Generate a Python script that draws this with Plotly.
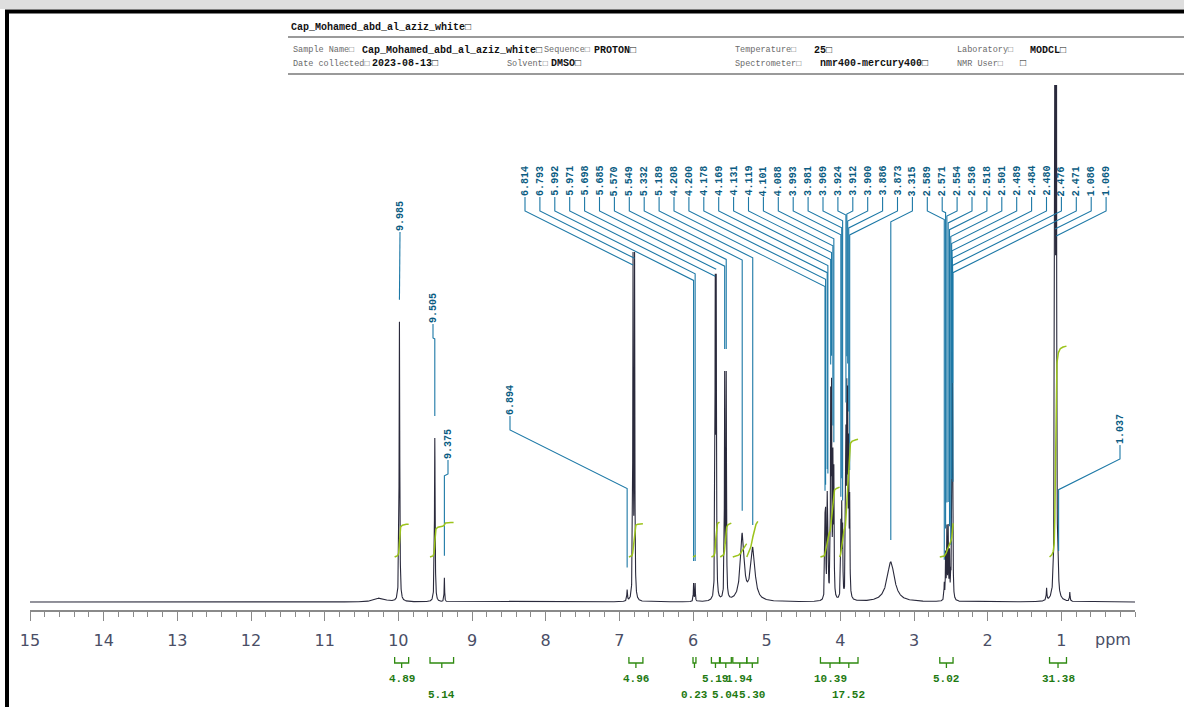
import numpy as np
import plotly.graph_objects as go

# ---------------- data ----------------
peak_ppm = [10.25, 9.985, 9.505, 9.375, 6.894, 6.814, 6.793, 5.992, 5.971,
            5.698, 5.685, 5.570, 5.549, 5.332, 5.189,
            4.208, 4.200, 4.178, 4.169, 4.131, 4.119, 4.101, 4.088,
            3.993, 3.981, 3.969, 3.924, 3.912, 3.900, 3.886, 3.873, 3.315,
            2.589, 2.571, 2.554, 2.536, 2.518, 2.501, 2.489, 2.484, 2.480, 2.476, 2.471,
            1.200, 1.086, 1.069, 1.037, 0.885]
peak_height = [4, 280, 164, 24, 11, 338, 338, 18, 18,
               301, 301, 221, 221, 66, 52,
               70, 75, 90, 85, 190, 195, 130, 120,
               70, 85, 65, 150, 185, 180, 140, 90, 40,
               16, 45, 70, 70, 45, 20, 45, 110, 160, 110, 45,
               12, 950, 950, 8, 9]
peak_hwhm = [0.08, 0.005, 0.005, 0.004, 0.005, 0.004, 0.004, 0.004, 0.004,
             0.004, 0.004, 0.004, 0.004, 0.03, 0.035,
             0.004, 0.004, 0.004, 0.004, 0.004, 0.004, 0.004, 0.004,
             0.004, 0.004, 0.004, 0.004, 0.004, 0.004, 0.004, 0.004, 0.06,
             0.004, 0.004, 0.004, 0.004, 0.004, 0.004, 0.003, 0.003, 0.003, 0.003, 0.003,
             0.005, 0.004, 0.004, 0.004, 0.005]

cluster_labels = ["6.814", "6.793", "5.992", "5.971", "5.698", "5.685", "5.570", "5.549",
                  "5.332", "5.189", "4.208", "4.200", "4.178", "4.169", "4.131", "4.119",
                  "4.101", "4.088", "3.993", "3.981", "3.969", "3.924", "3.912", "3.900",
                  "3.886", "3.873", "3.315", "2.589", "2.571", "2.554", "2.536", "2.518",
                  "2.501", "2.489", "2.484", "2.480", "2.476", "2.471", "1.086", "1.069"]
solo_labels = ["9.985", "9.505", "9.375", "6.894", "1.037"]

int_values = ["4.89", "5.14", "4.96", "0.23", "5.19", "5.04", "1.94", "5.30",
              "10.39", "17.52", "5.02", "31.38"]
int_start = [10.05, 9.57, 6.87, 6.00, 5.75, 5.63, 5.46, 5.27, 4.27, 4.01, 2.65, 1.16]
int_end = [9.86, 9.25, 6.68, 5.96, 5.64, 5.48, 5.27, 5.12, 4.01, 3.76, 2.47, 0.93]

tick_values = list(range(15, 0, -1))
tick_labels = [str(v) for v in tick_values]

title_text = "Cap_Mohamed_abd_al_aziz_white\u25a1"
header_items = [  # (label, value)
    ("Sample Name\u25a1", "Cap_Mohamed_abd_al_aziz_white\u25a1"),
    ("Sequence\u25a1", "PROTON\u25a1"),
    ("Date collected\u25a1", "2023-08-13\u25a1"),
    ("Solvent\u25a1", "DMSO\u25a1"),
    ("Temperature\u25a1", "25\u25a1"),
    ("Laboratory\u25a1", "MODCL\u25a1"),
    ("Spectrometer\u25a1", "nmr400-mercury400\u25a1"),
    ("NMR User\u25a1", "\u25a1"),
]

# ---------------- layout constants ----------------
W, H = 1184, 707
L, R, T, B = 30, 49, 85, 97
PW, PH = W - L - R, H - T - B
XMAX, XMIN = 15.0, 0.0
BASE_PIX = 602
YLO, YHI = -(H - B - BASE_PIX), BASE_PIX - T

def xpix(p):
    return L + (XMAX - p) / (XMAX - XMIN) * PW

def ppm_at(px):
    return XMAX - (px - L) / PW * (XMAX - XMIN)

def ydat(py):
    return BASE_PIX - py

def paper_x(px):
    return (px - L) / PW

def paper_y(py):
    return (H - B - py) / PH

P = np.array(peak_ppm)
Hh = np.array(peak_height, dtype=float)
Wd = np.array(peak_hwhm)

def spectrum(x):
    x = np.atleast_1d(x)[:, None]
    return (Hh * Wd**2 / ((x - P) ** 2 + Wd**2)).sum(axis=1)

grid = np.union1d(np.round(np.arange(XMIN, XMAX + 1e-9, 0.001), 4), P)
spec = spectrum(grid)

LINE_COL = "#1c78a6"
LABEL_COL = "#0b5c82"
INT_COL = "#9cc41c"
INT_TXT = "#1e7a12"
MONO = "Liberation Mono, DejaVu Sans Mono, monospace"

fig = go.Figure()
fig.add_trace(go.Scatter(x=grid, y=spec, mode="lines",
                         line=dict(color="#2a2a3c", width=1.1),
                         hoverinfo="skip", showlegend=False))

# ---------------- peak label leader lines ----------------
lx_all, ly_all = [], []
annotations = []

def add_leader(label, lx, lbot, pk):
    px = xpix(pk)
    y1, y2 = lbot + 2, lbot + 16
    y3 = y2 + 0.5 * abs(px - lx)
    ytop = BASE_PIX - float(spectrum(pk)[0]) - 22
    pts = [(lx, y1), (lx, y2), (px, y3)]
    if ytop > y3:
        pts.append((px, ytop))
    for (a, b) in pts:
        lx_all.append(ppm_at(a))
        ly_all.append(ydat(b))
    lx_all.append(None)
    ly_all.append(None)
    annotations.append(dict(x=ppm_at(lx), y=ydat(lbot - 14), xref="x", yref="y",
                            text="<b>%s</b>" % label, textangle=-90, showarrow=False,
                            xanchor="center", yanchor="middle",
                            font=dict(family=MONO, size=10, color=LABEL_COL)))

for i, lab in enumerate(cluster_labels):
    add_leader(lab, 525 + 14.9 * i, 195, float(lab))

solo_pos = [(400, 230), (433, 322), (448, 458), (510, 414), (1120, 443)]
for lab, (lx, lb) in zip(solo_labels, solo_pos):
    add_leader(lab, lx, lb, float(lab))

fig.add_trace(go.Scatter(x=lx_all, y=ly_all, mode="lines",
                         line=dict(color=LINE_COL, width=1.1),
                         hoverinfo="skip", showlegend=False))

# ---------------- integrals ----------------
INT_SCALE = 6.72
INT_BASE = ydat(557)
ix, iy = [], []
for v, a, b in zip(int_values, int_start, int_end):
    xs = np.linspace(a, b, 200)
    ys = spectrum(xs)
    cum = np.concatenate([[0], np.cumsum((ys[1:] + ys[:-1]) / 2)])
    cum = cum / cum[-1]
    ix += list(xs) + [None]
    iy += list(INT_BASE + float(v) * INT_SCALE * cum) + [None]
fig.add_trace(go.Scatter(x=ix, y=iy, mode="lines", line=dict(color=INT_COL, width=1.5),
                         hoverinfo="skip", showlegend=False))

shapes = []
row_y = [679, 695]
int_row = [0, 1, 0, 1, 0, 1, 0, 1, 0, 1, 0, 0]
for k, (v, a, b) in enumerate(zip(int_values, int_start, int_end)):
    x1, x2 = paper_x(xpix(a)), paper_x(xpix(b))
    xc = (x1 + x2) / 2
    yh, yt, yc = paper_y(663), paper_y(657), paper_y(668)
    path = "M %f,%f L %f,%f L %f,%f L %f,%f M %f,%f L %f,%f" % (
        x1, yt, x1, yh, x2, yh, x2, yt, xc, yh, xc, yc)
    shapes.append(dict(type="path", xref="paper", yref="paper", path=path,
                       line=dict(color="#2f8a10", width=1.3)))
    annotations.append(dict(x=xc, y=paper_y(row_y[int_row[k]]),
                            xref="paper", yref="paper", text="<b>%s</b>" % v,
                            showarrow=False, xanchor="center", yanchor="middle",
                            font=dict(family=MONO, size=11, color=INT_TXT)))

# ---------------- header ----------------
def head(text, px, py, bold, size):
    annotations.append(dict(x=paper_x(px), y=paper_y(py), xref="paper", yref="paper",
                            text=("<b>%s</b>" % text) if bold else text, showarrow=False,
                            xanchor="left", yanchor="middle",
                            font=dict(family=MONO, size=size,
                                      color="#111111" if bold else "#6a6a6a")))

head(title_text, 289, 27, True, 10)
head_pos = [((291, 50), (360, 50)), ((542, 50), (592, 50)),
            ((291, 64), (370, 64)), ((505, 64), (549, 64)),
            ((733, 50), (812, 50)), ((955, 50), (1028, 50)),
            ((733, 64), (818, 64)), ((955, 64), (1018, 64))]
for (lab, val), ((lxp, lyp), (vxp, vyp)) in zip(header_items, head_pos):
    head(lab, lxp, lyp, False, 8.5)
    head(val, vxp, vyp, True, 10)

for yy in (37, 74):
    shapes.append(dict(type="line", xref="paper", yref="paper",
                       x0=paper_x(288), x1=paper_x(1184), y0=paper_y(yy), y1=paper_y(yy),
                       line=dict(color="#9a9a9a", width=1.8)))

# frame
shapes.append(dict(type="rect", xref="paper", yref="paper", x0=paper_x(0), x1=paper_x(1184),
                   y0=paper_y(9), y1=paper_y(0), fillcolor="#dedede", line=dict(width=0)))
shapes.append(dict(type="line", xref="paper", yref="paper", x0=paper_x(5), x1=paper_x(1184),
                   y0=paper_y(11.5), y1=paper_y(11.5), line=dict(color="black", width=4)))
shapes.append(dict(type="line", xref="paper", yref="paper", x0=paper_x(7), x1=paper_x(7),
                   y0=paper_y(10), y1=paper_y(707), line=dict(color="black", width=4)))

annotations.append(dict(x=paper_x(1113), y=paper_y(639), xref="paper", yref="paper",
                        text="ppm", showarrow=False, xanchor="center", yanchor="middle",
                        font=dict(family="DejaVu Sans", size=16, color="#4a4e66")))

fig.update_layout(
    width=W, height=H, margin=dict(l=L, r=R, t=T, b=B),
    paper_bgcolor="white", plot_bgcolor="white", showlegend=False,
    xaxis=dict(range=[XMAX, XMIN], showgrid=False, zeroline=False,
               showline=True, linecolor="#8a8a8a", linewidth=1.5,
               tickmode="array", tickvals=tick_values, ticktext=tick_labels,
               ticks="outside", ticklen=9, tickwidth=1, tickcolor="#8a8a8a",
               ticklabelstandoff=6,
               tickfont=dict(family="DejaVu Sans", size=16, color="#4a4e66"),
               minor=dict(dtick=0.2, tick0=0, ticks="outside", ticklen=5,
                          tickcolor="#8a8a8a", tickwidth=1)),
    yaxis=dict(range=[YLO, YHI], visible=False),
    shapes=shapes, annotations=annotations,
)

fig.write_html("out.html")
